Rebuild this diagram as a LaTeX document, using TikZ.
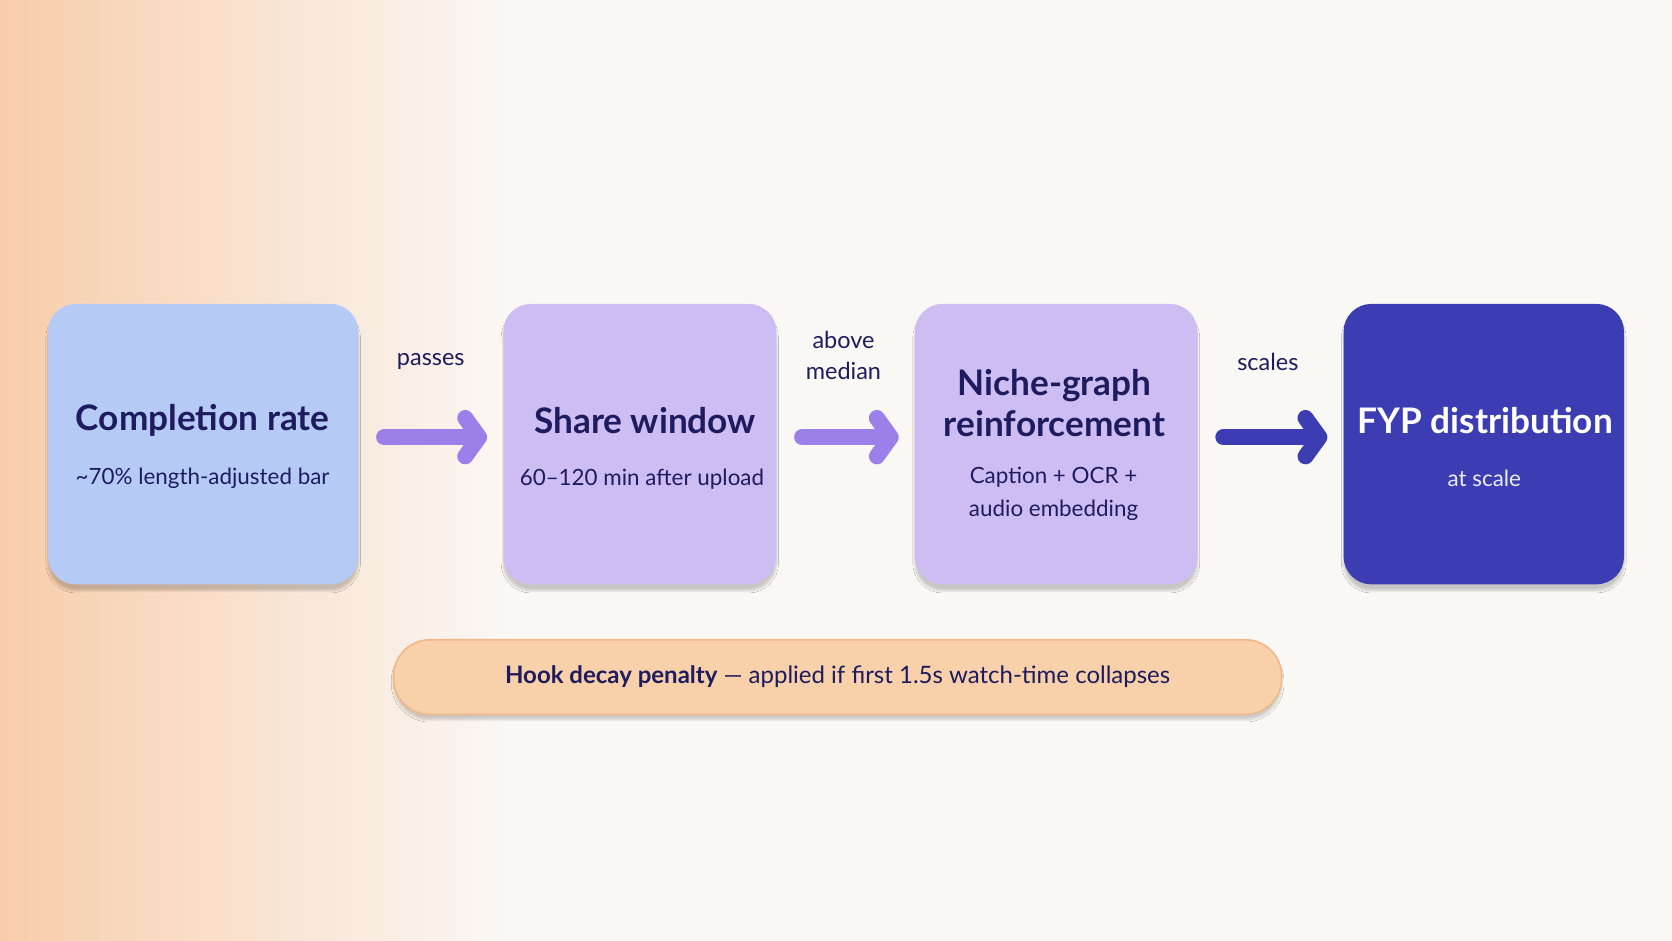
\documentclass[tikz,border=0pt]{standalone}
\usepackage{fontspec}
\setmainfont{Lato}
\usetikzlibrary{arrows.meta,shadows.blur}
\definecolor{ink}{HTML}{1E1B5E}
\definecolor{bgc}{HTML}{FAF8F5}
\definecolor{orng}{HTML}{F8CDAA}
\definecolor{cblue}{HTML}{B5CBF6}
\definecolor{clav}{HTML}{CDBDF3}
\definecolor{cdeep}{HTML}{3D3DB3}
\definecolor{carrow}{HTML}{9C80EA}
\definecolor{pill}{HTML}{F8D0AA}
\definecolor{pillb}{HTML}{EFB889}
\tikzset{
 card/.style={rounded corners=26pt,inner sep=0pt,blur shadow={shadow blur steps=8,shadow xshift=0pt,shadow yshift=-6pt,shadow opacity=20}},
 ttl/.style={font=\bfseries\fontsize{33}{38}\selectfont,text=ink,align=center},
 sub/.style={font=\fontsize{21}{31}\selectfont,text=ink,align=center},
 lbl/.style={font=\fontsize{22}{29}\selectfont,text=ink,align=center},
 flow/.style={line width=15pt,line cap=round,line join=round,-{Straight Barb[length=13pt,width=36pt,line cap=round,line join=round]},shorten <=24pt,shorten >=15pt}
}
\begin{document}
\begin{tikzpicture}[x=1pt,y=-1pt]
\useasboundingbox (0,0) rectangle (1568,882);
\shade[left color=orng,right color=bgc] (0,0) rectangle (480,882);
\fill[bgc] (480,0) rectangle (1568,882);
\node[card,fill=cblue,minimum width=291pt,minimum height=263pt] (b1) at (190.5,416.5) {};
\node[card,fill=clav,minimum width=256pt,minimum height=263pt] (b2) at (600,416.5) {};
\node[card,fill=clav,minimum width=265pt,minimum height=263pt] (b3) at (990.5,416.5) {};
\node[card,fill=cdeep,minimum width=263pt,minimum height=263pt] (b4) at (1391.5,416.5) {};
\node[ttl] (t1) at (190,394) {Completion rate};
\node[sub] (s1) at (190,449) {\textasciitilde70\% length-adjusted bar};
\node[ttl] (t2) at (605,394) {Share window};
\node[sub] (s2) at (602,449) {60–120 min after upload};
\node[ttl] (t3) at (989,378) {Niche-graph\\reinforcement};
\node[sub] (s3) at (988,463) {Caption + OCR +\\audio embedding};
\node[ttl,text=white] (t4) at (1393,394) {FYP distribution};
\node[sub,text=white!90!cdeep] (s4) at (1392,449) {at scale};
\draw[flow,carrow] (b1.east |- 0,410) coordinate (a1) -- (b2.west |- 0,410) coordinate (a2);
\draw[flow,carrow] (b2.east |- 0,410) coordinate (a3) -- (b3.west |- 0,410) coordinate (a4);
\draw[flow,cdeep] (b3.east |- 0,410) coordinate (a5) -- (b4.west |- 0,410) coordinate (a6);
\node[lbl] (l1) at (404,339) {passes};
\node[lbl] (l2) at (791,333) {above\\median};
\node[lbl] (l3) at (1189,339) {scales};
\node[draw=pillb,line width=1.5pt,fill=pill,rounded corners=34pt,minimum width=833pt,minimum height=70pt,blur shadow={shadow blur steps=8,shadow xshift=0pt,shadow yshift=-5pt,shadow opacity=18}] (p) at (785.5,635) {};
\node[lbl,font=\fontsize{22.5}{26}\selectfont] (pt) at (p) {\textbf{Hook decay penalty} — applied if first 1.5s watch-time collapses};
\end{tikzpicture}
\end{document}
